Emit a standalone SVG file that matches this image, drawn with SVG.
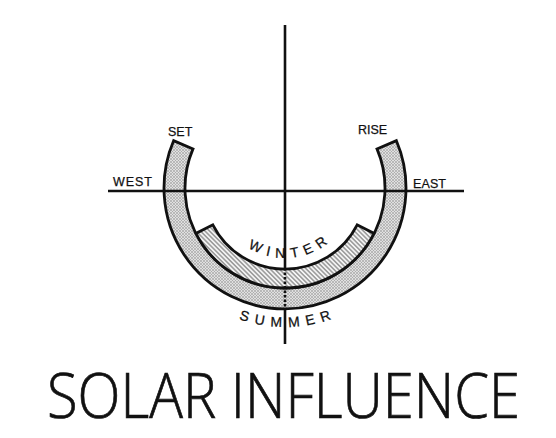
<svg xmlns="http://www.w3.org/2000/svg" width="556" height="438" viewBox="0 0 556 438">
<style>
.lbl{font-family:"Liberation Sans",Arial,sans-serif;font-size:12.5px;fill:#111;stroke:#111;stroke-width:0.25}
.arc{font-family:"Liberation Sans",Arial,sans-serif;font-size:14px;fill:#111;stroke:#111;stroke-width:0.25}
.band{stroke:#111;stroke-width:2.8;stroke-linejoin:miter}
.axis{stroke:#111;stroke-width:2.6;fill:none}
.title{font-family:"Open Sans","Liberation Sans",sans-serif;font-weight:300;font-size:62px;fill:#111;stroke:#111;stroke-width:0.7}
</style>
<defs>
<pattern id="dots" width="3" height="3" patternUnits="userSpaceOnUse">
<rect width="3" height="3" fill="#e0e0e0"/>
<path d="M0,0L3,3M3,0L0,3" stroke="#a0a0a0" stroke-width="0.6"/>
</pattern>
<pattern id="hatch" width="3.2" height="3.2" patternUnits="userSpaceOnUse" patternTransform="rotate(-45)">
<rect width="3.2" height="3.2" fill="#f4f4f4"/>
<line x1="0.8" y1="0" x2="0.8" y2="3.2" stroke="#777" stroke-width="1.1"/>
</pattern>
<path id="pw" d="M215,188 A70,70 0 0 0 355,188"/>
<path id="ps" d="M146,188 A139,139 0 0 0 424,188"/>
</defs>
<rect width="556" height="438" fill="#fff"/>
<g id="summer-band">
<path class="band" fill="url(#dots)" d="M173.6,140.7 A121,121 0 1 0 396.4,140.7 L377,148.9 A100,100 0 1 1 193,148.9 Z"/>
</g>
<g id="winter-band">
<path class="band" fill="url(#hatch)" d="M195.9,233.4 A100,100 0 0 0 374.1,233.4 L357.2,224.8 A81,81 0 0 1 212.8,224.8 Z"/>
</g>
<g id="axes">
<line class="axis" x1="108" y1="191" x2="464" y2="191"/>
<line class="axis" x1="285" y1="25" x2="285" y2="268"/>
<line class="axis" x1="285" y1="268" x2="285" y2="310" stroke-dasharray="2.5,2" stroke-width="1.6"/>
<line class="axis" x1="285" y1="309" x2="285" y2="344"/>
</g>
<g id="labels">
<text class="lbl" x="168" y="136">SET</text>
<text class="lbl" x="358" y="134">RISE</text>
<text class="lbl" x="113" y="186" textLength="39">WEST</text>
<text class="lbl" x="413" y="188" textLength="33">EAST</text>
<text class="arc" letter-spacing="6"><textPath href="#pw" startOffset="53%" text-anchor="middle">WINTER</textPath></text>
<text class="arc" letter-spacing="6.5"><textPath href="#ps" startOffset="50.8%" text-anchor="middle">SUMMER</textPath></text>
</g>
<g id="title">
<text class="title" transform="translate(47,418) scale(0.93,1)" x="0" y="0" textLength="508.6" lengthAdjust="spacingAndGlyphs">SOLAR INFLUENCE</text>
</g>
</svg>
